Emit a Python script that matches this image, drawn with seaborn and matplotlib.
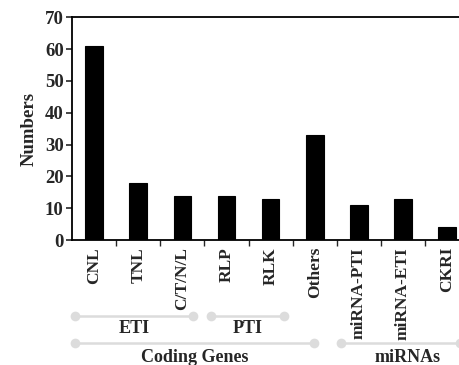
import numpy as np
import pandas as pd
import matplotlib
matplotlib.use("Agg")
import matplotlib.pyplot as plt
import matplotlib.transforms as mtransforms
import seaborn as sns

# values
categories = ["CNL", "TNL", "C/T/N/L", "RLP", "RLK", "Others",
              "miRNA-PTI", "miRNA-ETI", "CKRI"]
counts = [61, 18, 14, 14, 13, 33, 11, 13, 4]

# group brackets below the tick labels: (label, start, end, level)
group_labels = ["ETI", "PTI", "Coding Genes", "miRNAs"]
group_starts = [-0.43, 2.66, -0.43, 5.59]
group_ends = [2.25, 4.3, 4.98, 8.3]
group_levels = [0, 0, 1, 1]

sns.set_style("ticks")
plt.rcParams["font.family"] = ["Liberation Serif", "DejaVu Serif"]
plt.rcParams["font.weight"] = "bold"

df = pd.DataFrame({"category": categories, "count": counts})

fig = plt.figure(figsize=(4.59, 3.65), dpi=100)
ax = fig.add_axes([0.157, 0.342, 0.865, 0.611])

sns.barplot(data=df, x="category", y="count", color="black", width=0.4,
            saturation=1, edgecolor="black", linewidth=0.8, ax=ax)

fs = 13.5
ax.set_xlim(-0.5, len(categories) - 0.5)
ax.set_ylim(0, 70)
ax.set_yticks(range(0, 71, 10))
ax.set_xlabel("")
ax.set_ylabel("Numbers", fontsize=fs, fontweight="bold", labelpad=5)

ax.set_xticks(range(len(categories)))
ax.set_xticklabels(categories, rotation=90, fontsize=12.5, fontweight="bold")
ax.set_xticks(np.arange(0.5, len(categories) - 1, 1), minor=True)
ax.tick_params(axis="x", which="major", length=0, pad=5)
ax.tick_params(axis="x", which="minor", length=4, width=1, direction="out")
ax.tick_params(axis="y", length=4, width=1.2, labelsize=fs, pad=2)
for lbl in ax.get_yticklabels():
    lbl.set_fontweight("bold")

for side in ["left", "top", "bottom", "right"]:
    ax.spines[side].set_linewidth(1.3)
    ax.spines[side].set_color("black")

# group brackets
trans = mtransforms.blended_transform_factory(ax.transData, ax.transAxes)
line_y = [-0.34, -0.46]
text_y = [-0.395, -0.525]
for name, s, e, lev in zip(group_labels, group_starts, group_ends, group_levels):
    ax.plot([s, e], [line_y[lev], line_y[lev]], color="#dcdcdc", lw=1.8,
            marker="o", markersize=7, markeredgewidth=0,
            transform=trans, clip_on=False)
    cx = (s + e) / 2 if name != "miRNAs" else 7.1
    ax.text(cx, text_y[lev], name, transform=trans, ha="center", va="center",
            fontsize=13, fontweight="bold")

fig.savefig("out.png", dpi=100)
